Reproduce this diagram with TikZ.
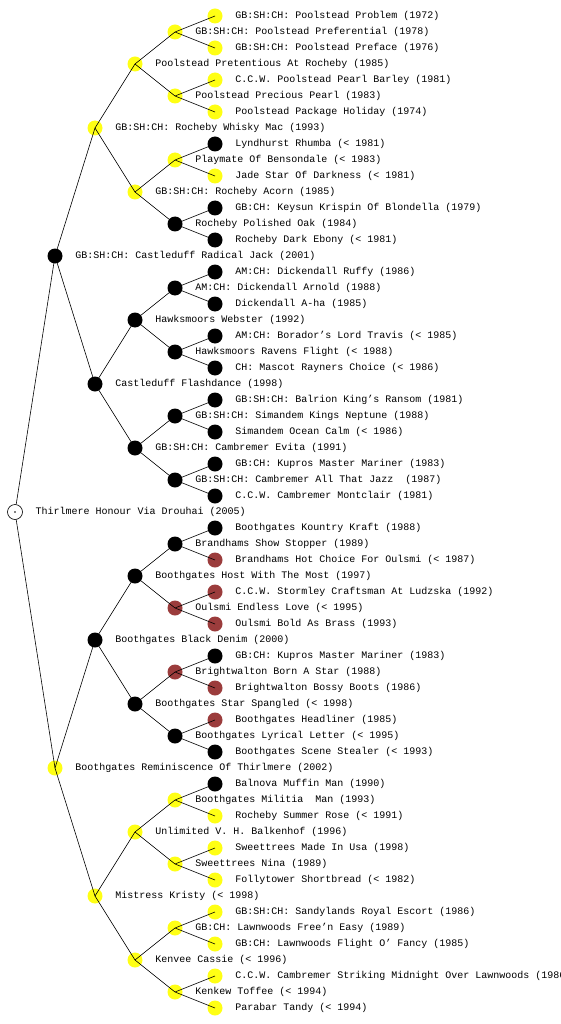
\documentclass[tikz,border=0pt]{standalone}
\usepackage{fontspec}
\newfontfamily\pedfont{Liberation Mono}
\usetikzlibrary{positioning}
\definecolor{dogyellow}{RGB}{255,255,20}
\definecolor{dogred}{RGB}{155,60,60}

\begin{document}
\begin{tikzpicture}[x=1pt, y=-1pt,
        dog/.style={circle, inner sep=0pt, minimum size=15pt},
        yel/.style={dog, fill=dogyellow},
        blk/.style={dog, fill=black},
        red/.style={dog, fill=dogred},
        txt/.style={inner sep=0pt, xshift=12.5pt,
                    font=\pedfont\fontsize{10}{12}\selectfont},
        edge/.style={black, line width=0.6pt}]
      \useasboundingbox[fill=white] (0,0) rectangle (560,1024);
      % root
      \node[dog, draw=black, fill=white, line width=0.6pt,
            label={[txt]right:{Thirlmere Honour Via Drouhai (2005)}}] (root) at (15,512) {};
      \fill (root.center) circle (0.8pt);
      % parents
      \node[blk, label={[txt]right:{GB:SH:CH: Castleduff Radical Jack (2001)}}] (s) at (55,256) {};
      \node[yel, label={[txt]right:{Boothgates Reminiscence Of Thirlmere (2002)}}] (d) at (55,768) {};
      % grandparents
      \node[yel, label={[txt]right:{GB:SH:CH: Rocheby Whisky Mac (1993)}}] (ss) at (95,128) {};
      \node[blk, label={[txt]right:{Castleduff Flashdance (1998)}}] (sd) at (95,384) {};
      \node[blk, label={[txt]right:{Boothgates Black Denim (2000)}}] (ds) at (95,640) {};
      \node[yel, label={[txt]right:{Mistress Kristy (< 1998)}}] (dd) at (95,896) {};
      % great-grandparents
      \node[yel, label={[txt]right:{Poolstead Pretentious At Rocheby (1985)}}] (sss) at (135,64) {};
      \node[yel, label={[txt]right:{GB:SH:CH: Rocheby Acorn (1985)}}] (ssd) at (135,192) {};
      \node[blk, label={[txt]right:{Hawksmoors Webster (1992)}}] (sds) at (135,320) {};
      \node[blk, label={[txt]right:{GB:SH:CH: Cambremer Evita (1991)}}] (sdd) at (135,448) {};
      \node[blk, label={[txt]right:{Boothgates Host With The Most (1997)}}] (dss) at (135,576) {};
      \node[blk, label={[txt]right:{Boothgates Star Spangled (< 1998)}}] (dsd) at (135,704) {};
      \node[yel, label={[txt]right:{Unlimited V. H. Balkenhof (1996)}}] (dds) at (135,832) {};
      \node[yel, label={[txt]right:{Kenvee Cassie (< 1996)}}] (ddd) at (135,960) {};
      % fourth generation
      \node[yel, label={[txt]right:{GB:SH:CH: Poolstead Preferential (1978)}}] (ssss) at (175,32) {};
      \node[yel, label={[txt]right:{Poolstead Precious Pearl (1983)}}] (sssd) at (175,96) {};
      \node[yel, label={[txt]right:{Playmate Of Bensondale (< 1983)}}] (ssds) at (175,160) {};
      \node[blk, label={[txt]right:{Rocheby Polished Oak (1984)}}] (ssdd) at (175,224) {};
      \node[blk, label={[txt]right:{AM:CH: Dickendall Arnold (1988)}}] (sdss) at (175,288) {};
      \node[blk, label={[txt]right:{Hawksmoors Ravens Flight (< 1988)}}] (sdsd) at (175,352) {};
      \node[blk, label={[txt]right:{GB:SH:CH: Simandem Kings Neptune (1988)}}] (sdds) at (175,416) {};
      \node[blk, label={[txt]right:{GB:SH:CH: Cambremer All That Jazz\ \ (1987)}}] (sddd) at (175,480) {};
      \node[blk, label={[txt]right:{Brandhams Show Stopper (1989)}}] (dsss) at (175,544) {};
      \node[red, label={[txt]right:{Oulsmi Endless Love (< 1995)}}] (dssd) at (175,608) {};
      \node[red, label={[txt]right:{Brightwalton Born A Star (1988)}}] (dsds) at (175,672) {};
      \node[blk, label={[txt]right:{Boothgates Lyrical Letter (< 1995)}}] (dsdd) at (175,736) {};
      \node[yel, label={[txt]right:{Boothgates Militia\ \ Man (1993)}}] (ddss) at (175,800) {};
      \node[yel, label={[txt]right:{Sweettrees Nina (1989)}}] (ddsd) at (175,864) {};
      \node[yel, label={[txt]right:{GB:CH: Lawnwoods Free’n Easy (1989)}}] (ddds) at (175,928) {};
      \node[yel, label={[txt]right:{Kenkew Toffee (< 1994)}}] (dddd) at (175,992) {};
      % fifth generation
      \node[yel, label={[txt]right:{GB:SH:CH: Poolstead Problem (1972)}}] (sssss) at (215,16) {};
      \node[yel, label={[txt]right:{GB:SH:CH: Poolstead Preface (1976)}}] (ssssd) at (215,48) {};
      \node[yel, label={[txt]right:{C.C.W. Poolstead Pearl Barley (1981)}}] (sssds) at (215,80) {};
      \node[yel, label={[txt]right:{Poolstead Package Holiday (1974)}}] (sssdd) at (215,112) {};
      \node[blk, label={[txt]right:{Lyndhurst Rhumba (< 1981)}}] (ssdss) at (215,144) {};
      \node[yel, label={[txt]right:{Jade Star Of Darkness (< 1981)}}] (ssdsd) at (215,176) {};
      \node[blk, label={[txt]right:{GB:CH: Keysun Krispin Of Blondella (1979)}}] (ssdds) at (215,208) {};
      \node[blk, label={[txt]right:{Rocheby Dark Ebony (< 1981)}}] (ssddd) at (215,240) {};
      \node[blk, label={[txt]right:{AM:CH: Dickendall Ruffy (1986)}}] (sdsss) at (215,272) {};
      \node[blk, label={[txt]right:{Dickendall A-ha (1985)}}] (sdssd) at (215,304) {};
      \node[blk, label={[txt]right:{AM:CH: Borador’s Lord Travis (< 1985)}}] (sdsds) at (215,336) {};
      \node[blk, label={[txt]right:{CH: Mascot Rayners Choice (< 1986)}}] (sdsdd) at (215,368) {};
      \node[blk, label={[txt]right:{GB:SH:CH: Balrion King’s Ransom (1981)}}] (sddss) at (215,400) {};
      \node[blk, label={[txt]right:{Simandem Ocean Calm (< 1986)}}] (sddsd) at (215,432) {};
      \node[blk, label={[txt]right:{GB:CH: Kupros Master Mariner (1983)}}] (sddds) at (215,464) {};
      \node[blk, label={[txt]right:{C.C.W. Cambremer Montclair (1981)}}] (sdddd) at (215,496) {};
      \node[blk, label={[txt]right:{Boothgates Kountry Kraft (1988)}}] (dssss) at (215,528) {};
      \node[red, label={[txt]right:{Brandhams Hot Choice For Oulsmi (< 1987)}}] (dsssd) at (215,560) {};
      \node[red, label={[txt]right:{C.C.W. Stormley Craftsman At Ludzska (1992)}}] (dssds) at (215,592) {};
      \node[red, label={[txt]right:{Oulsmi Bold As Brass (1993)}}] (dssdd) at (215,624) {};
      \node[blk, label={[txt]right:{GB:CH: Kupros Master Mariner (1983)}}] (dsdss) at (215,656) {};
      \node[red, label={[txt]right:{Brightwalton Bossy Boots (1986)}}] (dsdsd) at (215,688) {};
      \node[red, label={[txt]right:{Boothgates Headliner (1985)}}] (dsdds) at (215,720) {};
      \node[blk, label={[txt]right:{Boothgates Scene Stealer (< 1993)}}] (dsddd) at (215,752) {};
      \node[blk, label={[txt]right:{Balnova Muffin Man (1990)}}] (ddsss) at (215,784) {};
      \node[yel, label={[txt]right:{Rocheby Summer Rose (< 1991)}}] (ddssd) at (215,816) {};
      \node[yel, label={[txt]right:{Sweettrees Made In Usa (1998)}}] (ddsds) at (215,848) {};
      \node[yel, label={[txt]right:{Follytower Shortbread (< 1982)}}] (ddsdd) at (215,880) {};
      \node[yel, label={[txt]right:{GB:SH:CH: Sandylands Royal Escort (1986)}}] (dddss) at (215,912) {};
      \node[yel, label={[txt]right:{GB:CH: Lawnwoods Flight O’ Fancy (1985)}}] (dddsd) at (215,944) {};
      \node[yel, label={[txt]right:{C.C.W. Cambremer Striking Midnight Over Lawnwoods (1986)}}] (dddds) at (215,976) {};
      \node[yel, label={[txt]right:{Parabar Tandy (< 1994)}}] (ddddd) at (215,1008) {};
      % connectors
      \draw[edge] (root) -- (s.center) (root) -- (d.center);
      \foreach \p in {s,d,ss,sd,ds,dd,sss,ssd,sds,sdd,dss,dsd,dds,ddd,
                      ssss,sssd,ssds,ssdd,sdss,sdsd,sdds,sddd,
                      dsss,dssd,dsds,dsdd,ddss,ddsd,ddds,dddd}
        \draw[edge] (\p.center) -- (\p s.center) (\p.center) -- (\p d.center);
    \end{tikzpicture}
\end{document}
